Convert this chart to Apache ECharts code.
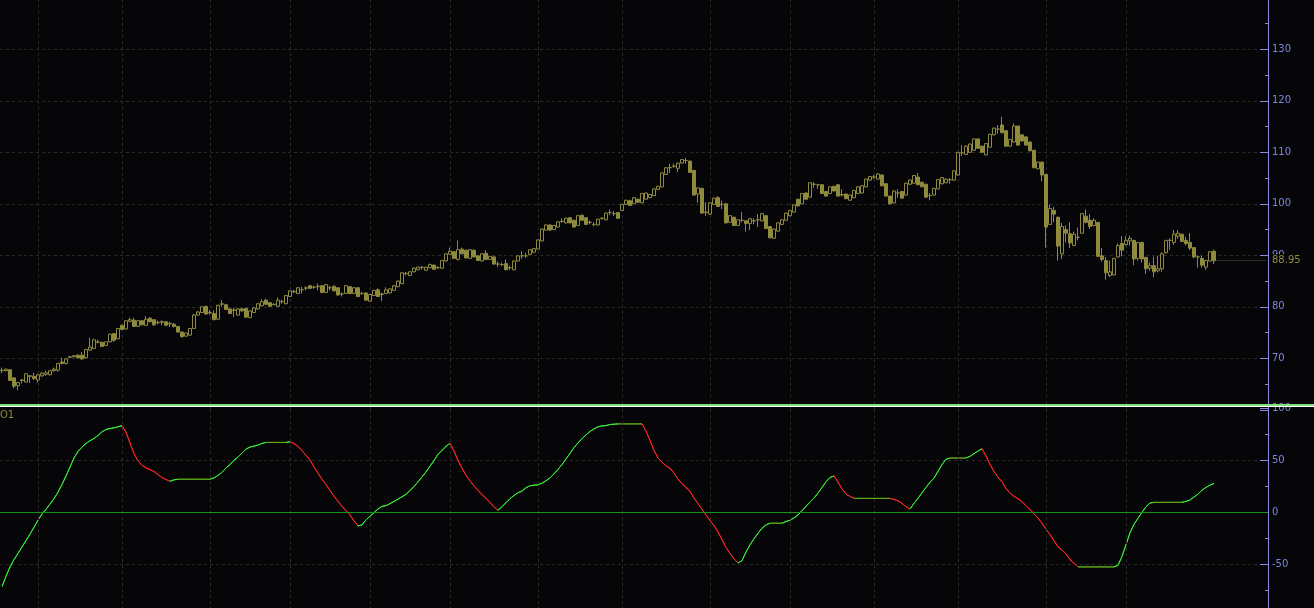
<!DOCTYPE html>
<html>
<head>
<meta charset="utf-8">
<script src="https://cdn.jsdelivr.net/npm/echarts@6/dist/echarts.min.js"></script>
<style>
html,body{margin:0;padding:0;background:#060609;}
#chart{width:1314px;height:608px;}
</style>
</head>
<body>
<div id="chart"></div>
<script>
// ---------- data ----------
const openPrices = [
67.6,67.6,67.8,66.2,64.7,65.7,65.4,66.6,66.5,65.8,
66.6,66.9,66.8,67.6,67.7,69.3,69.0,70.2,70.3,70.6,
70.6,70.1,71.6,71.9,73.1,73.1,72.5,73.2,74.8,73.8,
76.4,75.7,77.2,77.4,76.2,77.3,76.4,77.8,77.5,76.9,
77.1,77.1,76.8,76.6,76.2,75.1,74.3,74.5,75.8,78.4,
78.9,80.1,78.8,78.7,77.6,80.5,80.4,79.6,79.3,78.4,
79.6,79.7,77.9,78.9,79.6,80.2,81.3,80.8,80.4,80.1,
81.0,80.6,82.0,82.9,82.6,83.3,83.6,84.1,83.8,83.9,
84.1,82.8,83.7,84.0,83.7,82.5,82.6,83.9,82.6,83.7,
82.6,82.7,81.1,82.2,83.3,82.5,82.6,82.7,83.2,83.9,
84.5,86.4,86.1,86.8,87.2,87.6,87.1,87.6,88.1,87.6,
87.5,88.9,90.2,90.7,89.2,91.2,91.0,89.4,91.0,89.9,
88.9,90.4,89.2,89.7,88.3,88.2,88.4,87.6,87.2,88.9,
89.9,89.9,90.2,90.6,91.2,92.8,94.9,95.9,95.0,95.5,
96.6,96.3,97.3,96.8,95.8,97.8,97.3,96.4,96.0,95.9,
97.2,96.9,98.3,98.1,98.3,98.7,99.9,100.6,100.0,100.9,
100.2,100.9,101.2,101.6,102.8,103.3,105.7,107.0,107.3,106.9,
107.9,108.4,108.3,106.5,101.9,103.0,98.4,98.0,99.9,101.2,
99.9,100.0,96.4,97.4,95.8,96.8,96.7,96.2,96.7,96.9,
96.7,97.7,95.6,93.3,94.7,96.0,96.8,97.7,98.4,100.9,
100.0,102.1,101.3,103.8,103.7,103.7,102.4,102.0,103.4,103.7,
101.8,101.9,100.7,101.2,102.0,102.1,103.3,104.6,105.2,104.8,
105.6,103.9,101.5,100.2,102.1,102.4,101.7,103.8,104.0,105.2,
104.2,103.8,101.6,101.7,102.9,103.9,104.1,104.7,104.6,105.6,
109.9,109.6,110.0,110.4,112.6,111.2,109.5,111.0,113.4,114.5,
115.3,114.2,111.2,112.0,115.1,113.4,113.0,112.0,110.4,106.8,
108.1,105.7,96.0,98.7,97.4,90.3,95.0,94.2,91.9,93.5,
94.3,97.6,96.8,95.8,96.4,89.9,89.0,86.1,86.2,89.7,
92.3,92.1,92.8,92.9,89.4,92.5,89.6,87.5,88.0,87.0,
87.4,90.5,92.9,92.5,93.7,94.1,92.9,92.5,91.5,89.7,
89.4,87.7,88.9,90.8
];
const closePrices = [
67.7,67.9,65.7,64.6,65.3,65.8,67.0,66.5,66.1,66.8,
67.1,67.2,67.6,67.9,69.0,69.0,69.9,70.3,70.5,70.1,
69.9,71.7,72.2,73.6,73.2,72.3,73.2,74.7,73.5,75.8,
75.6,77.3,77.5,76.2,77.3,76.5,77.6,77.1,76.5,77.0,
77.0,76.4,76.7,76.2,75.1,74.2,74.9,75.8,78.4,79.0,
80.0,78.6,78.9,77.5,80.3,80.6,79.5,78.7,79.4,79.6,
79.2,78.0,79.2,79.8,80.6,81.0,80.5,80.1,80.5,81.3,
81.0,82.2,83.1,83.0,83.7,83.3,83.7,83.6,83.8,84.0,
82.8,84.3,83.7,83.1,82.3,82.5,84.1,82.6,83.7,82.0,
82.6,81.3,82.4,83.2,82.0,82.4,83.3,83.5,84.1,85.0,
86.6,86.5,86.8,87.5,87.7,87.7,87.7,88.2,87.3,87.6,
89.0,90.3,90.8,89.4,91.1,90.3,89.5,91.1,89.7,89.0,
90.3,89.2,89.8,88.3,88.3,88.2,87.2,87.6,88.9,89.9,
89.9,89.9,91.1,91.3,93.0,95.1,95.9,94.9,95.8,96.5,
96.6,97.2,96.3,95.5,97.7,96.8,96.0,96.4,96.0,97.0,
97.2,98.2,98.3,98.1,97.2,99.9,100.7,99.7,101.2,100.3,
102.0,102.1,101.8,102.9,103.4,106.0,107.0,107.1,107.3,107.9,
108.6,108.4,106.1,101.7,103.1,98.2,98.3,100.2,101.1,99.5,
99.9,96.3,97.7,95.8,96.9,96.8,96.2,97.1,96.7,96.9,
98.1,95.2,93.4,95.1,96.3,96.9,98.2,98.7,99.8,99.6,
102.0,100.9,104.1,103.8,103.7,102.0,101.5,103.3,102.5,101.5,
101.7,101.0,101.7,102.6,103.3,103.5,104.8,105.3,105.2,105.8,
103.5,101.5,100.0,102.5,102.1,101.1,104.0,104.6,105.5,103.7,
103.3,101.3,101.6,103.0,104.7,105.1,104.8,104.7,106.4,110.0,
109.9,111.2,111.6,112.6,110.8,110.0,111.7,113.5,114.7,114.5,
113.8,111.2,112.5,115.1,111.4,112.2,111.4,110.3,107.0,108.1,
105.6,95.5,99.1,98.0,91.8,95.6,94.3,92.4,94.1,93.5,
98.1,96.4,95.6,96.8,89.8,89.2,86.6,86.8,89.4,91.9,
91.0,92.9,93.3,89.3,92.5,89.3,87.4,88.0,86.8,87.4,
90.3,92.9,92.9,94.1,94.3,92.7,92.3,91.4,89.7,89.7,
88.1,89.0,90.7,88.95
];
const lowPrices = [
67.1,67.5,65.6,64.2,63.8,65.1,65.3,65.2,65.8,65.3,
66.4,66.6,66.7,67.4,67.4,68.8,68.8,70.0,70.2,70.0,
69.7,70.0,71.5,71.8,72.9,72.2,72.4,73.1,73.2,73.7,
75.5,75.6,77.0,76.1,76.1,76.4,76.3,77.0,76.3,76.6,
76.4,76.3,76.1,76.0,75.0,74.0,74.2,74.4,75.7,78.3,
78.8,78.5,78.5,77.4,77.5,80.0,79.4,78.6,78.0,78.3,
79.1,77.9,77.8,78.8,79.5,80.1,80.4,80.0,80.3,80.0,
80.6,80.5,81.9,82.7,82.5,82.6,83.2,83.5,83.5,83.2,
82.7,82.7,83.2,83.0,82.2,82.0,82.5,82.5,82.5,81.9,
82.3,81.2,81.0,82.1,81.9,81.1,82.5,82.6,83.1,83.8,
84.4,86.1,86.0,86.7,87.1,87.2,87.0,87.5,87.2,87.4,
87.4,88.8,90.1,89.3,89.0,90.2,89.4,89.3,89.6,88.9,
88.8,89.1,89.1,88.2,87.7,87.9,87.1,87.1,87.1,88.8,
89.3,89.5,90.1,90.5,91.1,92.7,94.8,94.8,94.9,95.4,
96.3,96.2,96.2,95.4,95.7,96.7,95.9,96.0,95.6,95.8,
96.9,96.8,97.8,97.6,97.1,98.6,99.8,99.6,99.9,100.2,
100.1,100.8,101.1,101.5,102.7,103.2,105.6,106.0,107.0,106.2,
107.8,107.8,106.0,101.6,100.2,98.1,97.7,97.9,99.8,99.4,
99.0,96.2,96.3,95.7,95.7,96.4,94.6,94.9,96.0,95.5,
96.6,95.1,93.3,93.2,94.6,95.9,96.7,97.6,98.3,99.5,
99.9,100.8,101.2,103.1,102.9,101.9,101.4,101.9,102.4,101.4,
101.4,100.9,100.6,101.1,101.9,102.0,103.2,104.5,104.8,104.7,
103.4,101.4,99.9,100.1,101.2,101.0,101.6,103.7,103.9,103.6,
103.2,101.1,100.7,101.6,102.8,103.8,104.0,103.9,104.5,105.5,
109.3,109.5,109.9,110.3,110.7,109.9,109.4,110.9,113.3,113.6,
113.7,111.1,111.1,111.9,111.3,112.1,111.3,110.2,106.9,106.7,
104.4,91.5,95.9,96.4,89.0,89.3,92.5,91.4,91.8,92.9,
94.2,96.2,95.1,95.6,89.7,88.8,85.3,85.8,86.1,89.6,
89.8,91.9,91.9,88.1,89.0,88.6,86.4,87.0,85.7,86.7,
86.8,90.4,91.1,92.0,93.2,92.6,91.9,91.0,89.4,87.6,
87.6,87.2,88.8,88.3
];
const highPrices = [
68.2,68.0,67.9,66.3,65.4,66.0,67.1,66.7,67.2,67.0,
67.4,67.6,67.7,68.2,69.1,70.1,70.0,70.5,70.6,70.8,
71.2,71.8,74.0,73.8,73.6,73.2,73.3,74.8,74.9,75.9,
76.5,77.4,77.9,77.9,77.4,77.4,78.2,78.0,77.6,77.3,
77.4,77.2,77.1,76.9,76.3,75.2,75.0,75.9,78.6,79.2,
80.1,80.2,79.4,79.3,80.4,81.3,80.6,79.7,79.8,79.7,
79.8,79.8,79.3,79.9,80.7,81.5,81.6,80.9,80.7,81.8,
81.4,82.3,83.2,83.3,83.8,83.9,84.0,84.2,84.1,84.5,
84.2,84.4,84.1,84.1,83.8,82.8,84.2,84.0,83.8,83.8,
82.9,82.8,82.5,83.3,83.6,82.8,83.8,83.6,84.2,85.1,
86.7,86.8,86.9,87.7,87.8,87.9,87.8,88.4,88.2,87.9,
89.1,90.4,91.5,90.8,92.9,91.5,91.1,91.2,91.1,90.0,
90.4,91.0,89.9,89.8,88.8,88.6,89.2,88.0,89.0,90.0,
90.8,90.5,91.2,91.4,93.1,95.2,96.0,96.0,95.9,96.6,
97.2,97.3,97.4,96.9,97.8,97.9,97.4,96.8,96.4,97.1,
97.4,98.3,98.9,98.6,98.4,100.0,100.8,100.8,101.3,101.0,
102.1,102.2,101.9,103.0,103.5,106.1,107.1,107.8,107.8,108.0,
108.7,108.9,108.4,106.6,103.2,103.1,100.3,100.3,101.2,101.5,
100.6,100.1,97.8,97.5,97.0,98.4,96.8,97.2,97.2,98.0,
98.2,97.8,95.7,95.2,96.4,97.0,98.3,98.8,99.9,101.0,
102.1,102.2,104.2,104.2,103.9,103.8,102.5,103.4,103.5,103.8,
102.8,102.0,101.8,102.7,103.4,103.6,104.9,105.4,105.6,105.9,
105.7,104.0,101.6,102.6,102.8,102.5,104.1,104.7,105.6,106.0,
104.3,103.9,102.1,103.1,104.8,105.2,104.9,105.0,106.5,110.1,
111.4,111.3,111.7,112.7,112.7,111.3,111.8,113.6,114.8,115.3,
116.9,114.3,112.6,115.6,115.2,113.5,113.1,112.1,110.5,108.2,
108.2,105.8,99.9,99.4,97.5,96.3,95.8,96.4,94.6,95.4,
98.2,98.9,98.0,97.2,96.5,91.4,89.7,89.0,89.5,92.3,
93.7,93.7,93.8,93.0,92.6,92.6,89.7,88.6,89.7,89.9,
90.6,93.0,93.3,94.9,94.9,94.2,93.6,94.3,91.6,90.0,
89.9,89.1,90.8,91.1
];
const oscValues = [
-71.7,-61.5,-52.5,-45.5,-39.5,-33.4,-27.1,-21.0,-14.3,-7.6,
-1.6,2.9,8.0,13.1,19.4,26.8,35.0,43.6,52.2,58.6,
62.7,66.2,68.8,71.0,73.9,77.4,79.6,80.6,81.2,82.2,
83.1,77.1,66.6,56.4,49.4,45.2,42.7,41.1,39.2,36.3,
33.4,31.5,29.9,31.2,31.8,31.8,31.8,31.8,31.8,31.8,
31.8,31.8,31.8,33.1,35.4,38.5,42.7,45.9,50.0,53.2,
57.0,60.8,62.7,63.7,64.6,66.2,67.2,67.2,67.2,67.2,
67.2,67.2,67.8,66.0,63.4,59.2,54.8,50.3,43.6,37.6,
31.8,26.8,21.0,15.6,10.5,5.7,1.6,-2.5,-8.3,-13.1,
-12.1,-7.3,-3.8,-0.3,3.2,5.7,6.4,8.3,10.5,12.7,
15.0,17.2,21.0,24.8,29.3,34.0,38.9,44.3,49.7,55.7,
59.6,63.4,66.2,58.9,50.0,42.4,35.7,30.3,25.2,21.0,
17.2,13.4,9.6,5.1,1.9,5.4,9.2,13.1,16.2,18.8,
20.4,23.6,25.5,26.1,26.4,28.0,30.3,33.1,36.9,41.4,
45.9,51.3,56.7,62.1,66.9,70.7,74.5,77.7,80.3,82.2,
83.1,83.4,84.4,84.7,85.0,85.0,85.0,85.0,85.0,85.0,
85.0,78.0,69.1,59.6,52.2,48.1,44.6,42.4,37.6,31.8,
27.7,23.9,20.1,13.7,8.3,2.9,-2.5,-8.0,-12.7,-18.8,
-26.4,-33.8,-39.5,-44.9,-48.7,-46.5,-38.2,-31.2,-25.5,-20.1,
-15.3,-12.1,-10.5,-10.5,-10.5,-10.5,-8.9,-7.6,-5.4,-2.5,
1.6,5.7,9.9,13.7,18.5,23.9,29.3,33.4,35.0,29.0,
22.6,17.5,15.3,13.4,13.4,13.4,13.4,13.4,13.4,13.4,
13.4,13.4,13.4,12.4,11.1,8.6,5.4,3.2,8.6,13.4,
18.8,23.9,29.0,32.8,39.5,45.9,51.0,52.2,52.2,52.2,
52.2,52.2,53.8,56.4,58.9,61.1,54.1,46.2,39.2,33.8,
29.3,22.9,18.5,15.3,13.1,10.2,6.4,2.5,-1.3,-5.7,
-10.5,-16.2,-21.3,-27.4,-33.1,-36.3,-40.1,-45.5,-49.0,-52.5,
-52.5,-52.5,-52.5,-52.5,-52.5,-52.5,-52.5,-52.5,-52.5,-51.0,
-42.4,-31.2,-19.7,-11.5,-5.7,0.0,5.4,8.9,9.6,9.6,
9.6,9.6,9.6,9.6,9.6,9.6,10.5,11.8,14.6,17.5,
21.3,23.9,26.1,27.7
];
// first trading day of each month (index into the bars)
const monthStartIdx = [9, 30, 52, 72, 92, 112, 134, 155, 177, 197, 218, 239, 261, 281];
const lastPrice = 88.95;
const oscName = 'O1';
const emptySlots = 13; // blank space right of the last bar

// ---------- build ----------
const nBars = openPrices.length;
const categories = Array.from({length: nBars + emptySlots}, (_, i) => String(i));
const candleData = openPrices.map((o, i) => [o, closePrices[i], lowPrices[i], highPrices[i]]);

const BG = '#060609';
const OLIVE = '#8f8a3c';
const AXIS = '#8a8ae2';
const AXLBL = '#7c86d6';
const GRIDC = '#2b2b2b';
const UP = '#33ee33', DOWN = '#ff2222', FLAT = '#5da818';
const FONT = 'DejaVu Sans';

// colour runs of the oscillator by direction
const pieces = [];
let runStart = 1, runDir = Math.sign(oscValues[1] - oscValues[0]);
function pushRun(a, b, d) {
  const color = d > 0 ? UP : (d < 0 ? DOWN : FLAT);
  const p = {lte: b, color};
  if (a - 1 === 0) p.gte = 0; else p.gt = a - 1;
  pieces.push(p);
}
for (let k = 2; k < nBars; k++) {
  const d = Math.sign(oscValues[k] - oscValues[k - 1]);
  if (d !== runDir) { pushRun(runStart, k - 1, runDir); runStart = k; runDir = d; }
}
pushRun(runStart, nBars - 1, runDir);

const monthLines = monthStartIdx.map(i => ({xAxis: i}));

function yAxisCommon(gi, mn, mx, iv) {
  return {
    type: 'value', gridIndex: gi, position: 'right', min: mn, max: mx, interval: iv, z: 0,
    axisLine: {show: true, onZero: false, lineStyle: {color: AXIS, width: 1}},
    axisTick: {show: true, inside: true, length: 8, lineStyle: {color: AXIS}},
    minorTick: {show: true, splitNumber: 2, length: 3, lineStyle: {color: AXIS}},
    axisLabel: {margin: 4, color: AXLBL, fontSize: 10, fontFamily: FONT, showMinLabel: false, showMaxLabel: true, hideOverlap: false},
    splitLine: {show: true, showMinLine: false, showMaxLine: gi === 0, lineStyle: {color: GRIDC, type: [3, 3], width: 1}},
    minorSplitLine: {show: false}
  };
}

const baseGraphic = [
  {id: 'sepGreen', type: 'rect', z: 100, shape: {x: 0, y: 404, width: 1314, height: 2}, style: {fill: '#80e080'}},
  {id: 'sepWhite', type: 'rect', z: 100, shape: {x: 0, y: 406, width: 1314, height: 1}, style: {fill: '#ffffff'}},
  {id: 'oscName', type: 'text', z: 100, left: 0, top: 410, style: {text: oscName, fill: OLIVE, font: '10px "DejaVu Sans"'}}
];

const chart = echarts.init(document.getElementById('chart'), null, {renderer: 'canvas'});
chart.setOption({
  backgroundColor: BG,
  animation: false,
  grid: [
    {left: 0, top: -2.17, width: 1268, height: 412, outerBoundsMode: 'none', containLabel: false},
    {left: 0, top: 408.3, width: 1268, height: 208, outerBoundsMode: 'none', containLabel: false}
  ],
  xAxis: [
    {type: 'category', gridIndex: 0, data: categories, boundaryGap: true, show: false},
    {type: 'category', gridIndex: 1, data: categories, boundaryGap: true, show: false}
  ],
  yAxis: [yAxisCommon(0, 60, 140, 10), yAxisCommon(1, -100, 100, 50)],
  visualMap: {
    type: 'piecewise', show: false, dimension: 0, seriesIndex: 1, pieces: pieces
  },
  series: [
    {
      type: 'candlestick', xAxisIndex: 0, yAxisIndex: 0, data: candleData,
      barWidth: 3, z: 5,
      itemStyle: {color: BG, color0: OLIVE, borderColor: OLIVE, borderColor0: OLIVE, borderColorDoji: OLIVE, borderWidth: 1},
      markLine: {
        silent: true, symbol: 'none', animation: false, label: {show: false},
        data: [
          ...monthLines.map(m => ({...m, lineStyle: {color: GRIDC, type: [3, 3], width: 1}})),
          [
            {coord: [nBars - 1, lastPrice], lineStyle: {color: '#2e2e2e', type: 'solid', width: 1}},
            {coord: [nBars + emptySlots - 1, lastPrice]}
          ]
        ]
      }
    },
    {
      type: 'line', xAxisIndex: 1, yAxisIndex: 1, data: oscValues, name: oscName,
      showSymbol: false, symbol: 'none', lineStyle: {width: 1},
      markLine: {
        silent: true, symbol: 'none', animation: false, label: {show: false},
        data: [
          ...monthLines.map(m => ({...m, lineStyle: {color: GRIDC, type: [3, 3], width: 1}})),
          {yAxis: 0, lineStyle: {color: '#149614', type: 'solid', width: 1}}
        ]
      }
    }
  ],
  graphic: baseGraphic
});

// last-price tag, placed through the chart's own scale and drawn above the axis labels
const tagPt = chart.convertToPixel({gridIndex: 0}, [nBars + emptySlots - 1, lastPrice]);
const gridRight = chart.convertToPixel({gridIndex: 0}, [nBars + emptySlots - 1, 140]);
chart.setOption({
  graphic: [
    {
      id: 'lastTag', type: 'text', z: 120,
      x: 1271, y: tagPt[1],
      style: {
        text: String(lastPrice), fill: OLIVE, font: '10px "DejaVu Sans"',
        verticalAlign: 'middle', align: 'left',
        backgroundColor: BG, padding: [2, 3, 1, 1]
      }
    }
  ]
});
</script>
</body>
</html>
